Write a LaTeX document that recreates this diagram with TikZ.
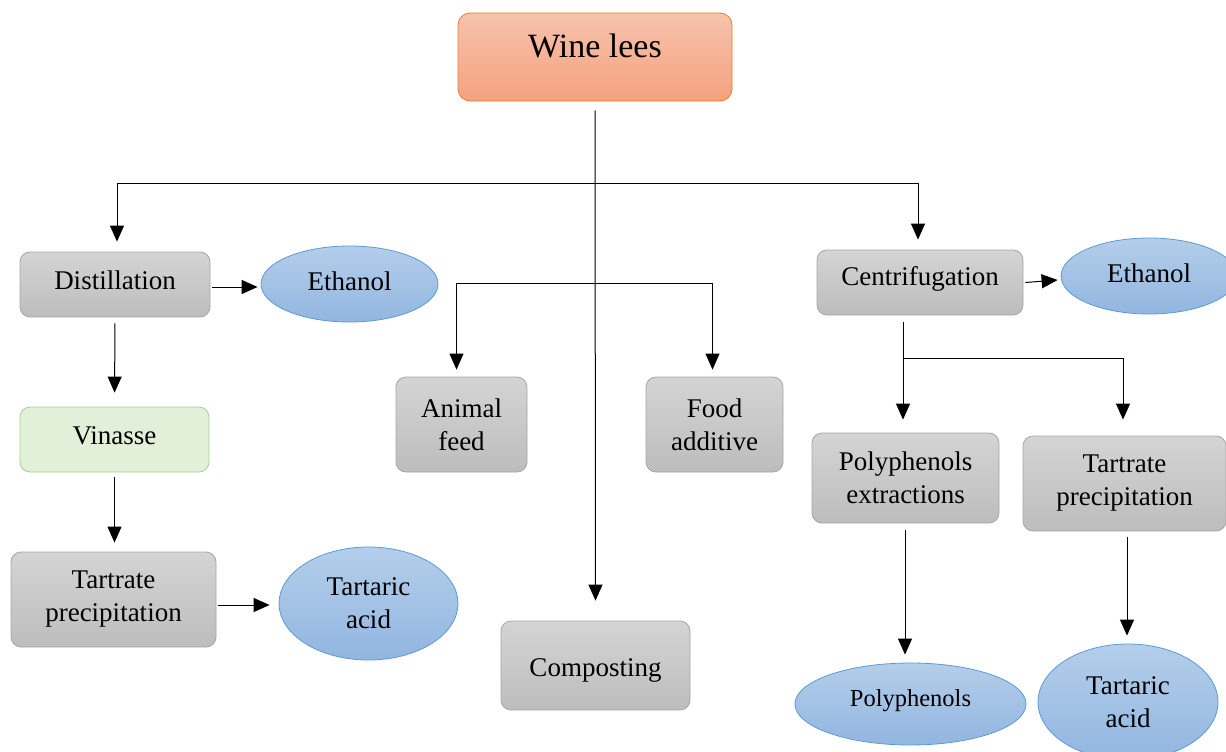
\documentclass[tikz,border=0pt]{standalone}
\usepackage{fontspec}
\setmainfont{Liberation Serif}
\usetikzlibrary{arrows.meta,shapes.geometric}
\definecolor{gtop}{HTML}{D4D4D4}
\definecolor{gbot}{HTML}{BDBDBD}
\definecolor{gline}{HTML}{A6A6A6}
\definecolor{btop}{HTML}{B4CEEA}
\definecolor{bbot}{HTML}{92B6E0}
\definecolor{bline}{HTML}{5B9BD5}
\definecolor{otop}{HTML}{F7C2AC}
\definecolor{obot}{HTML}{F4A27E}
\definecolor{oline}{HTML}{ED7D31}
\definecolor{gfill}{HTML}{E2F0D9}
\definecolor{gbord}{HTML}{A9D18E}
\tikzset{
  base/.style={font=\fontsize{27}{33}\selectfont, align=center, inner sep=0pt, line width=0.8pt},
  graybox/.style={base, rectangle, rounded corners=10pt, draw=gline, top color=gtop, bottom color=gbot},
  greenbox/.style={base, rectangle, rounded corners=10pt, draw=gbord, fill=gfill},
  orangebox/.style={base, rectangle, rounded corners=12pt, draw=oline, top color=otop, bottom color=obot},
  blueell/.style={base, ellipse, draw=bline, top color=btop, bottom color=bbot},
  oneline/.style={text height=19pt, text depth=10pt},
  ellline/.style={text height=19pt, text depth=7pt},
  conn/.style={line width=1pt, draw=black},
  arr/.style={conn, -{Triangle[length=16pt,width=14pt]}},
}
\begin{document}
\begin{tikzpicture}[x=1pt,y=-1pt]
\useasboundingbox (0,0) rectangle (1226,752);
% nodes
\node[orangebox, minimum width=274pt, minimum height=88pt, font=\fontsize{34}{38}\selectfont, text height=22pt, text depth=20pt] (wine) at (595,57) {Wine lees};
\node[graybox, oneline, minimum width=190pt, minimum height=65pt] (dist) at (115,284.5) {Distillation};
\node[blueell, ellline, minimum width=177pt, minimum height=76pt] (eth1) at (349.5,284) {Ethanol};
\node[greenbox, oneline, minimum width=189pt, minimum height=65pt] (vin) at (114.5,439.5) {Vinasse};
\node[graybox, minimum width=205pt, minimum height=95pt] (tart1) at (113.5,599.5) {Tartrate\\precipitation};
\node[blueell, minimum width=179pt, minimum height=113pt] (acid1) at (368.5,603.5) {Tartaric\\acid};
\node[graybox, minimum width=131pt, minimum height=95pt] (feed) at (461.5,424.5) {Animal\\feed};
\node[graybox, minimum width=137pt, minimum height=95pt] (food) at (714.5,424.5) {Food\\additive};
\node[graybox, minimum width=189pt, minimum height=89pt, text height=21pt, text depth=0pt] (comp) at (595.5,665.5) {Composting};
\node[graybox, minimum width=206pt, minimum height=65pt, text height=19pt, text depth=14pt] (cent) at (920,282.5) {Centrifugation};
\node[blueell, ellline, minimum width=176pt, minimum height=76pt] (eth2) at (1149,276) {Ethanol};
\node[graybox, minimum width=187pt, minimum height=90pt] (pext) at (905.5,478) {Polyphenols\\extractions};
\node[graybox, minimum width=203pt, minimum height=95pt] (tart2) at (1124.5,483.5) {Tartrate\\precipitation};
\node[blueell, minimum width=231pt, minimum height=82pt, font=\fontsize{24.5}{29}\selectfont, text height=17pt, text depth=13pt] (poly) at (910.5,704) {Polyphenols};
\node[blueell, minimum width=180pt, minimum height=116pt] (acid2) at (1128,702) {Tartaric\\acid};
% junctions
\coordinate (j1) at (595,183);
\coordinate (j2) at (595,283);
\coordinate (j3) at (903,358);
% connectors
\draw[arr, shorten <=9pt, shorten >=20pt] (wine.south) -- (comp.north);
\draw[arr, shorten >=10pt] (j1) -| ([xshift=2pt]dist.north);
\draw[arr, shorten >=10pt] (j1) -| ([xshift=-2pt]cent.north);
\draw[arr] ([xshift=2pt,yshift=-3pt]dist.east |- eth1.west) -- ([xshift=-3pt,yshift=-3pt]eth1.west);
\draw[arr, shorten <=6pt, shorten >=14pt] (dist.south) -- (vin.north);
\draw[arr, shorten <=5pt, shorten >=9pt] (vin.south) -- (tart1.north -| vin.south);
\draw[arr] ([xshift=2pt,yshift=-1.5pt]tart1.east |- acid1.west) -- ([xshift=-9pt,yshift=-1.5pt]acid1.west);
\draw[arr, shorten >=7pt] (j2) -| ([xshift=-5pt]feed.north);
\draw[arr, shorten >=7pt] (j2) -| ([xshift=-2pt]food.north);
\draw[arr] ([xshift=2pt]cent.east) -- ([xshift=-3pt,yshift=-4pt]eth2.west);
\draw[conn, shorten <=7pt] (cent.south -| j3) -- (j3);
\draw[arr, shorten >=13pt] (j3) -- (pext.north -| j3);
\draw[arr, shorten >=16pt] (j3) -| ([xshift=-1.5pt]tart2.north);
\draw[arr, shorten <=7pt, shorten >=8pt] (pext.south -| 905,0) -- (poly.north -| 905,0);
\draw[arr, shorten <=6pt, shorten >=8pt] ([xshift=2.5pt]tart2.south) -- (acid2.north -| 1127,0);
\end{tikzpicture}
\end{document}
